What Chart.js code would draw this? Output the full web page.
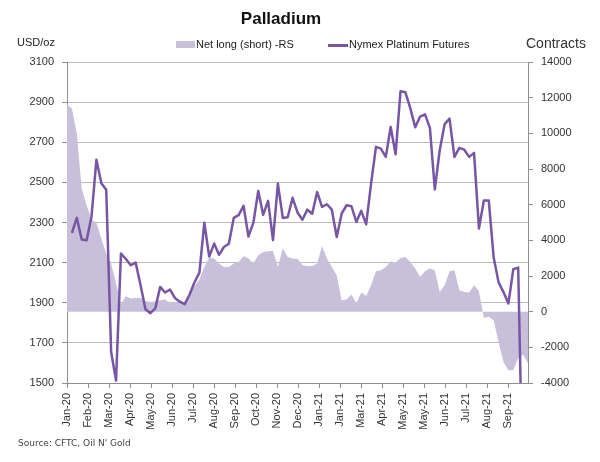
<!DOCTYPE html>
<html>
<head>
<meta charset="utf-8">
<script src="https://cdn.jsdelivr.net/npm/chart.js@4.4.1/dist/chart.umd.min.js"></script>
<style>
  body { margin: 0; background: #fff; }
  #wrap { position: relative; width: 600px; height: 462px; font-family: 'Liberation Sans', Arial, sans-serif; color: #222; }
  #chart { position: absolute; left: 0; top: 0; }
  .txt { position: absolute; white-space: nowrap; }
  .sw { position: absolute; }
</style>
</head>
<body>
<div id="wrap">
  <canvas id="chart" width="600" height="462"></canvas>
  <div class="txt" style="left:281px; top:10px; font-size:17px; line-height:17px; font-weight:bold; transform:translateX(-50%); color:#111;">Palladium</div>
  <div class="txt" style="left:17px; top:37px; font-size:11px; line-height:11px;">USD/oz</div>
  <div class="sw" style="left:176px; top:41px; width:19px; height:7px; background:#c8bfdb;"></div>
  <div class="txt" style="left:196px; top:39px; font-size:11px; line-height:11px;">Net long (short) -RS</div>
  <div class="sw" style="left:328px; top:44px; width:20px; height:2.5px; background:#7856a4;"></div>
  <div class="txt" style="left:349px; top:39px; font-size:11px; line-height:11px;">Nymex Platinum Futures</div>
  <div class="txt" style="left:526px; top:36px; font-size:14px; line-height:14px; color:#333;">Contracts</div>
  <div class="txt" style="left:18px; top:439px; font-size:9px; line-height:9px; font-family:'DejaVu Sans', Verdana, sans-serif; color:#444;">Source: CFTC, Oil N' Gold</div>
</div>
<script>
// weekly CFTC reports, first one 7 Jan 2020; x axis counts days from there
const tickLabels = ["Jan-20", "Feb-20", "Mar-20", "Apr-20", "May-20", "Jun-20", "Jul-20", "Aug-20", "Sep-20", "Oct-20", "Nov-20", "Dec-20",
    "Jan-21", "Jan-21", "Mar-21", "Apr-21", "May-21", "May-21", "Jun-21", "Jul-21", "Aug-21", "Sep-21"];

// net long (short), contracts - right scale
const netLong = [11610, 11386, 9984, 6900, 5950, 5170, 4980, 4100, 3250, 2695,
    1600, 420, 863, 732, 770, 770, 602, 546, 583, 640,
    677, 452, 546, 583, 500, 960, 1420, 1800, 2508, 3020,
    2975, 2694, 2508, 2508, 2694, 2788, 3106, 2975, 2694, 3162,
    3349, 3386, 3405, 2508, 3536, 3068, 2975, 2950, 2601, 2564,
    2564, 2695, 3685, 2975, 2508, 2040, 639, 676, 956, 452,
    1069, 882, 1480, 2265, 2321, 2508, 2826, 2751, 3013, 3069,
    2788, 2414, 1947, 2265, 2414, 2321, 1106, 1480, 2265, 2321,
    1200, 1106, 1069, 1480, 1143, -350, -280, -483, -1698, -2819,
    -3286, -3286, -2600, -2400, -2900];

// futures price, USD/oz - left scale
const price = [null, 2248, 2323, 2215, 2212, 2330, 2613, 2496, 2463, 1655,
    1512, 2145, 2118, 2087, 2100, 1987, 1868, 1848, 1872, 1979,
    1951, 1966, 1924, 1905, 1893, 1941, 2002, 2050, 2299, 2130,
    2195, 2139, 2178, 2194, 2323, 2337, 2383, 2230, 2299, 2457,
    2338, 2408, 2212, 2494, 2323, 2326, 2423, 2350, 2314, 2364,
    2344, 2452, 2378, 2391, 2364, 2228, 2344, 2386, 2381, 2303,
    2358, 2291, 2494, 2677, 2668, 2627, 2776, 2640, 2954, 2949,
    2870, 2775, 2828, 2839, 2772, 2465, 2660, 2790, 2818, 2627,
    2672, 2663, 2627, 2647, 2270, 2410, 2410, 2125, 2002, 1953,
    1896, 2067, 2075, 900];

const axisColor = "#8f8f8f";
const gridColor = "#bcbcbc";
const labelColor = "#333";

Chart.defaults.font.family = "'Liberation Sans', Arial, sans-serif";
Chart.defaults.font.size = 11;

function toPoints(values) {
    return values.map((v, i) => ({ x: i * 7, y: v }));
}

// plain numbers on the value axes, no thousands separator
const plain = v => String(v);

new Chart(document.getElementById("chart"), {
    type: "line",
    data: {
        datasets: [{
            label: "Nymex Platinum Futures",
            data: toPoints(price),
            yAxisID: "y",
            borderColor: "#7856a4",
            borderWidth: 2.5,
            borderJoinStyle: "round",
            pointRadius: 0,
            tension: 0,
            fill: false,
            order: 0
        }, {
            label: "Net long (short) -RS",
            data: toPoints(netLong),
            yAxisID: "y2",
            backgroundColor: "#c8bfdb",
            borderColor: "rgba(0,0,0,0)",
            borderWidth: 0,
            pointRadius: 0,
            tension: 0,
            fill: "origin",
            order: 1
        }]
    },
    options: {
        responsive: false,
        animation: false,
        layout: { padding: { top: 62, left: 0, right: 0, bottom: 0 } },
        plugins: {
            legend: { display: false },
            tooltip: { enabled: false },
            title: { display: false }
        },
        scales: {
            x: {
                type: "linear",
                position: "bottom",
                min: 0,
                max: 658,
                afterFit: s => { s.height = 79; },
                ticks: {
                    stepSize: 30,
                    includeBounds: false,
                    autoSkip: false,
                    minRotation: 90,
                    maxRotation: 90,
                    padding: 5,
                    color: labelColor,
                    callback: v => tickLabels[Math.round(v / 30)] || ""
                },
                grid: { drawOnChartArea: false, tickLength: 5, tickColor: axisColor },
                border: { color: axisColor }
            },
            y: {
                position: "left",
                min: 1500,
                max: 3100,
                afterFit: s => { s.width = 67; },
                ticks: { stepSize: 200, padding: 8, color: labelColor, callback: plain },
                grid: { color: gridColor, tickLength: 5, tickColor: axisColor },
                border: { color: axisColor }
            },
            y2: {
                position: "right",
                min: -4000,
                max: 14000,
                afterFit: s => { s.width = 72; },
                ticks: { stepSize: 2000, padding: 8, color: labelColor, callback: plain },
                grid: { drawOnChartArea: false, tickLength: 5, tickColor: axisColor },
                border: { color: axisColor }
            }
        }
    }
});
</script>
</body>
</html>
